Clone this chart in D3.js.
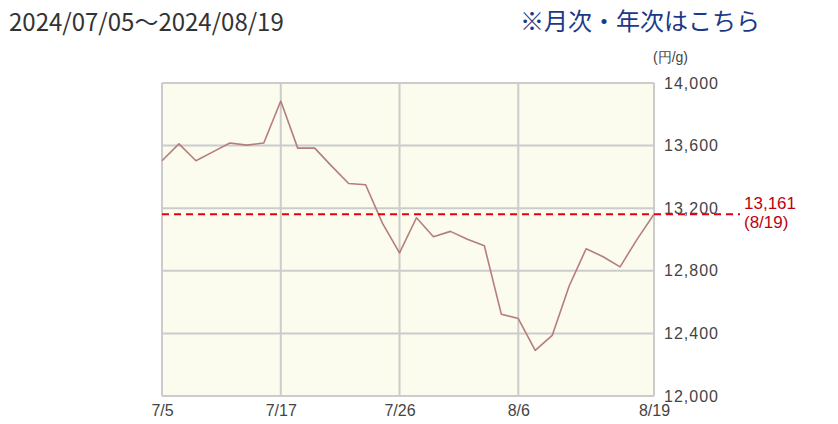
<!DOCTYPE html>
<html><head><meta charset="utf-8">
<script src="https://cdn.jsdelivr.net/npm/d3@7"></script>
<style>
body{margin:0;background:#fff;}
svg{display:block;}
</style></head>
<body>
<svg id="c" width="838" height="424"></svg>
<script>
const dates = ["7/5","7/8","7/9","7/10","7/11","7/12","7/16","7/17","7/18","7/19","7/22","7/23","7/24","7/25","7/26","7/29","7/30","7/31","8/1","8/2","8/5","8/6","8/7","8/8","8/9","8/13","8/14","8/15","8/16","8/19"];
const prices = [13503,13611,13503,13560,13617,13603,13617,13885,13584,13584,13469,13358,13350,13103,12914,13139,13018,13052,13001,12960,12523,12495,12291,12387,12703,12941,12890,12825,13001,13161];
const xTickLabels = ["7/5","7/17","7/26","8/6","8/19"];
const yTicks = [12000,12400,12800,13200,13600,14000];
const refValue = 13161;
const refLabel = ["13,161","(8/19)"];
const title = "2024/07/05～2024/08/19";
const linkText = "※月次・年次はこちら";
const unitLabel = "(円/g)";

const svg = d3.select("#c");
const L=162,R=654,T=83,B=396;
const x = d3.scalePoint().domain(dates).range([L,R]);
const y = d3.scaleLinear().domain([12000,14000]).range([B,T]);

svg.append("text").attr("x",9).attr("y",31).attr("font-family","'Noto Sans CJK JP'").attr("font-size",24).attr("fill","#333").text(title);
svg.append("text").attr("x",520).attr("y",30).attr("font-family","'Noto Sans CJK JP'").attr("font-size",24).attr("fill","#1b3889").text(linkText);
svg.append("text").attr("x",653).attr("y",62).attr("font-family","'Liberation Sans',Arial").attr("font-size",14).attr("fill","#444").text(unitLabel);

svg.append("rect").attr("x",L).attr("y",T).attr("width",R-L).attr("height",B-T).attr("fill","#fbfbee");

// grid
const g = svg.append("g");
g.selectAll("line.h").data(yTicks).join("line")
 .attr("x1",L).attr("x2",R).attr("y1",d=>y(d)).attr("y2",d=>y(d))
 .attr("stroke","#cccccc").attr("stroke-width",2);
g.selectAll("line.v").data(xTickLabels).join("line").attr("class","v")
 .attr("x1",d=>x(d)).attr("x2",d=>x(d)).attr("y1",T).attr("y2",B)
 .attr("stroke","#cccccc").attr("stroke-width",2);

// y axis labels
const yAxis = d3.axisRight(y).tickValues(yTicks).tickSize(0).tickPadding(0).tickFormat(d3.format(","));
const ya = svg.append("g").attr("transform",`translate(${R+10},0)`).call(yAxis);
ya.select(".domain").remove();
ya.selectAll("text").attr("font-family","'Liberation Sans',Arial").attr("font-size",16).attr("letter-spacing","1px").attr("fill","#444");

// x axis labels
const xAxis = d3.axisBottom(x).tickValues(xTickLabels).tickSize(0).tickPadding(0);
const xa = svg.append("g").attr("transform",`translate(0,${B+9})`).call(xAxis);
xa.select(".domain").remove();
xa.selectAll("text").attr("font-family","'Liberation Sans',Arial").attr("font-size",16).attr("fill","#444");

// line
svg.append("path").datum(prices)
 .attr("d", d3.line().x((d,i)=>x(dates[i])).y(d=>y(d)))
 .attr("fill","none").attr("stroke","#b57d7d").attr("stroke-width",1.6).attr("stroke-linejoin","round");

// reference line
svg.append("line").attr("x1",L).attr("x2",740).attr("y1",y(refValue)).attr("y2",y(refValue))
 .attr("stroke","#e60012").attr("stroke-width",2).attr("stroke-dasharray","7,5");
const rl = svg.append("text").attr("font-family","'Liberation Sans',Arial").attr("font-size",17).attr("fill","#c00010");
rl.append("tspan").attr("x",744).attr("y",209).text(refLabel[0]);
rl.append("tspan").attr("x",744).attr("y",228).text(refLabel[1]);
</script>
</body></html>
